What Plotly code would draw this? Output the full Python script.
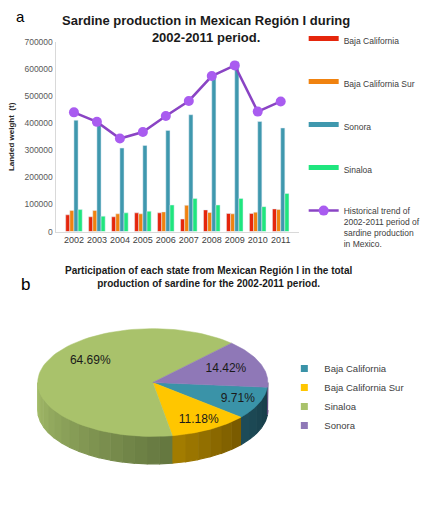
import numpy as np
import plotly.graph_objects as go

# ---- data ----
years = ['2002', '2003', '2004', '2005', '2006', '2007', '2008', '2009', '2010', '2011']
baja_california = [61800, 54500, 54500, 69100, 69100, 46000, 80000, 66700, 66700, 83600]
baja_california_sur = [77600, 77600, 65500, 65500, 72700, 97000, 70300, 65500, 71500, 81200]
sonora = [411600, 397000, 308700, 318400, 374000, 432000, 572000, 628000, 407000, 383000]
sinaloa = [81200, 57000, 69100, 75200, 98200, 122400, 98200, 122400, 92100, 140700]
trend = [440700, 405600, 343800, 368000, 427000, 483000, 575000, 614500, 443600, 481000]

pie_states = ['Baja California', 'Baja California Sur', 'Sinaloa', 'Sonora']
pie_share = [9.71, 11.18, 64.69, 14.42]

FONT = 'Liberation Sans'
W, H = 426, 517

bar_series = [
    ('Baja California', baja_california, '#e5260c'),
    ('Baja California Sur', baja_california_sur, '#f0820f'),
    ('Sonora', sonora, '#3f98ae'),
    ('Sinaloa', sinaloa, '#1fe67e'),
]

fig = go.Figure()

for name, vals, col in bar_series:
    fig.add_trace(go.Bar(x=years, y=vals, name=name, marker_color=col,
                         showlegend=False, legendgroup=name))
    # legend swatch drawn as a thick short line like the original
    fig.add_trace(go.Scatter(x=[None], y=[None], mode='lines', name=name,
                             line=dict(color=col, width=5), legendgroup=name))

fig.add_trace(go.Scatter(
    x=years, y=trend, mode='lines+markers',
    name='Historical trend of<br>2002-2011 period of<br>sardine production<br>in Mexico.',
    line=dict(color='#8a44c4', width=2.5),
    marker=dict(color='#a95cf0', size=10),
    legendgroup='trend'))

# ---- 3D-looking elliptical pie, drawn from the shares ----
cx, cy, ra, rb, depth = 158, 385, 119, 55, 28
start = 95.0
top_cols = ['#3a93a8', '#ffc600', '#a9c26b', '#8f78b7']
side_cols = [('#1d4b58', '#173d48'), ('#a27c00', '#7a5b00'),
             ('#a3bb69', '#657840'), ('#5e4c7c', '#5e4c7c')]
label_frac = [0.8, 0.8, 0.62, 0.68]

def ell(t_deg, dy=0.0):
    t = np.radians(t_deg)
    return cx + ra * np.sin(t), cy - rb * np.cos(t) + dy

bounds = []
t0 = start
for s in pie_share:
    t1 = t0 + s / 100 * 360
    bounds.append((t0, t1))
    t0 = t1

def hex_mix(c1, c2, f):
    a = [int(c1[i:i + 2], 16) for i in (1, 3, 5)]
    b = [int(c2[i:i + 2], 16) for i in (1, 3, 5)]
    return '#%02x%02x%02x' % tuple(round(a[k] + (b[k] - a[k]) * f) for k in range(3))

# side walls (visible front half: 90..270 deg, also 450..630)
for (t0, t1), (c1, c2) in zip(bounds, side_cols):
    for off in (0, 360):
        lo, hi = max(t0, 90 + off), min(t1, 270 + off)
        if hi <= lo:
            continue
        nstrip = max(1, int((hi - lo) / 6))
        edges = np.linspace(lo, hi, nstrip + 1)
        for k in range(nstrip):
            ts = np.linspace(edges[k], edges[k + 1], 8)
            xs, ys = ell(ts)
            xb, yb = ell(ts[::-1], depth)
            # gradient runs light on the left to dark on the right
            f = k / max(1, nstrip - 1)
            col = hex_mix(c2, c1, f)
            fig.add_trace(go.Scatter(
                x=np.concatenate([xs, xb]), y=np.concatenate([ys, yb]),
                fill='toself', mode='lines', line=dict(color=col, width=1.2),
                fillcolor=col, xaxis='x2', yaxis='y2', showlegend=False,
                hoverinfo='skip'))

# top faces
for (t0, t1), col, name in zip(bounds, top_cols, pie_states):
    ts = np.linspace(t0, t1, 80)
    xs, ys = ell(ts)
    fig.add_trace(go.Scatter(
        x=np.concatenate([[cx], xs, [cx]]), y=np.concatenate([[cy], ys, [cy]]),
        fill='toself', mode='lines', line=dict(color=col, width=0.5),
        fillcolor=col, xaxis='x2', yaxis='y2', showlegend=False,
        name=name, hoverinfo='name'))

# slice labels
lab_x, lab_y, lab_t = [], [], []
for (t0, t1), s, fr in zip(bounds, pie_share, label_frac):
    t = np.radians((t0 + t1) / 2)
    lab_x.append(cx + fr * ra * np.sin(t) + (6 if s > 50 else 0))
    lab_y.append(cy - fr * rb * np.cos(t) - (12 if s > 50 else 0))
    lab_t.append('%.2f%%' % s)
fig.add_trace(go.Scatter(x=lab_x, y=lab_y, text=lab_t, mode='text',
                         textfont=dict(family=FONT, size=12, color='#1a1a1a'),
                         xaxis='x2', yaxis='y2', showlegend=False, hoverinfo='skip'))

# pie legend entries
for name, col in zip(pie_states, top_cols):
    fig.add_trace(go.Scatter(x=[None], y=[None], mode='markers', name=name,
                             marker=dict(symbol='square', size=7, color=col),
                             xaxis='x2', yaxis='y2', legend='legend2'))

fig.update_layout(
    width=W, height=H,
    margin=dict(l=0, r=0, t=0, b=0),
    paper_bgcolor='white', plot_bgcolor='white',
    barmode='group', bargap=0.28, bargroupgap=0,
    font=dict(family=FONT, color='#404040'),
    xaxis=dict(domain=[57.4 / W, 309.3 / W], showgrid=False, tickangle=0,
               showline=True, linecolor='#d9d9d9', linewidth=1, ticks='',
               tickfont=dict(size=9, color='#404040')),
    yaxis=dict(domain=[1 - 231 / H, 1 - 38 / H], range=[0, 700000],
               tickvals=[0, 100000, 200000, 300000, 400000, 500000, 600000, 700000],
               tickformat='d', showgrid=False, zeroline=False,
               showline=True, linecolor='#d9d9d9', linewidth=1,
               tickfont=dict(size=8.5, color='#595959'), ticklen=0, ticks='outside',
               tickcolor='white',
               title=dict(text='<b>Landed weight  (t)</b>', font=dict(size=8, color='#262626'),
                          standoff=8)),
    xaxis2=dict(domain=[0, 1], range=[0, W], visible=False, fixedrange=True),
    yaxis2=dict(domain=[0, 1 - 290 / H], range=[H, 290], visible=False, fixedrange=True),
    legend=dict(x=314 / W, y=1 - 22 / H, xanchor='left', yanchor='top',
                font=dict(size=8.5, color='#404040'), tracegroupgap=24,
                itemwidth=30, valign='top', bgcolor='rgba(0,0,0,0)'),
    legend2=dict(x=294 / W, y=1 - 356 / H, xanchor='left', yanchor='top',
                 font=dict(size=9.5, color='#404040'), tracegroupgap=0,
                 itemwidth=30, bgcolor='rgba(0,0,0,0)'),
    annotations=[
        dict(text='a', x=14 / W, y=1 - 1 / H, xref='paper', yref='paper',
             xanchor='left', yanchor='top', showarrow=False,
             font=dict(size=15, color='#000000')),
        dict(text='b', x=20 / W, y=1 - 273 / H, xref='paper', yref='paper',
             xanchor='left', yanchor='top', showarrow=False,
             font=dict(size=17, color='#000000')),
        dict(text='<b>Sardine production in Mexican Región I during<br>2002-2011 period.</b>',
             x=213 / W, y=1 - 6 / H, xref='paper', yref='paper',
             xanchor='center', yanchor='top', showarrow=False,
             font=dict(size=13, color='#1a1a1a')),
        dict(text='<b>Participation of each state from Mexican Región I in the total<br>'
                  'production of sardine for the 2002-2011 period.</b>',
             x=216 / W, y=1 - 263 / H, xref='paper', yref='paper',
             xanchor='center', yanchor='top', showarrow=False,
             font=dict(size=10, color='#1a1a1a')),
    ],
)

fig.write_html('out.html', config={'displayModeBar': False},
               post_script="document.body.style.margin='0';")
